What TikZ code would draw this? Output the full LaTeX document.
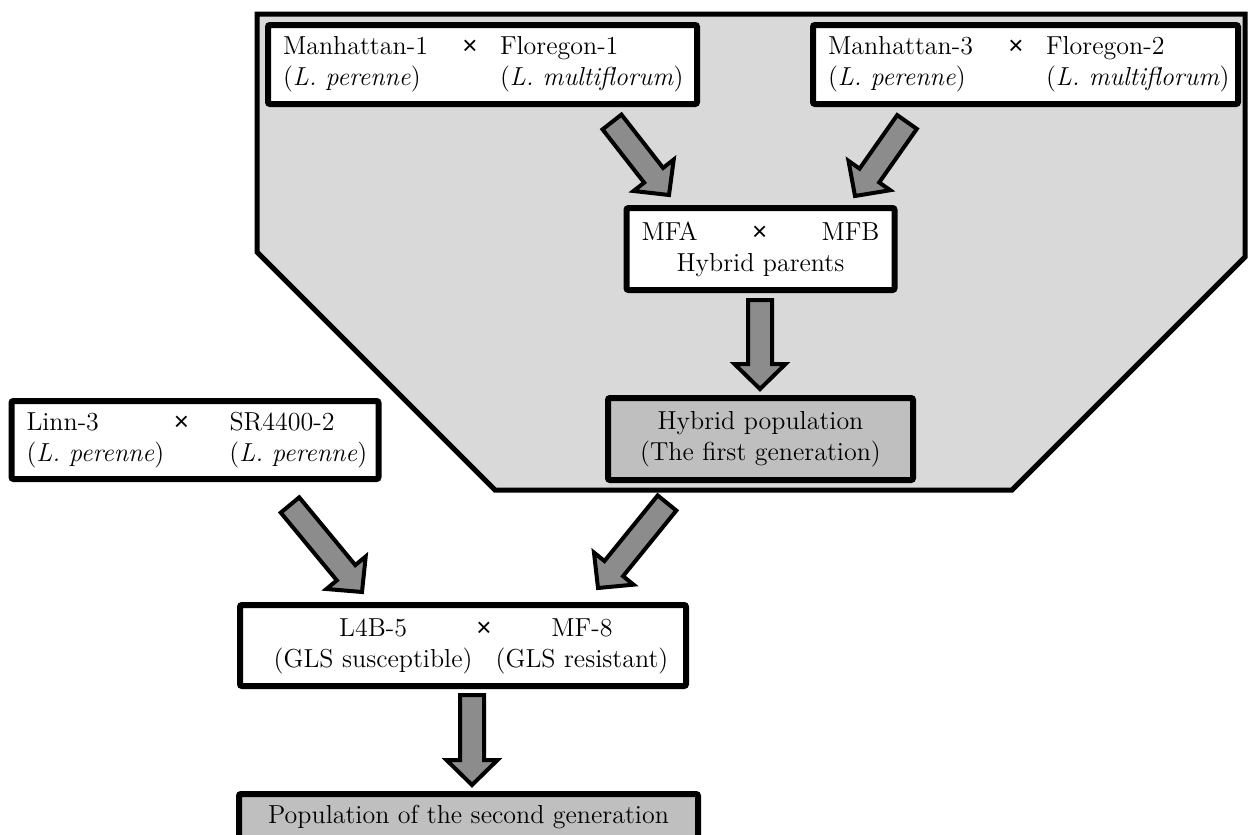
\documentclass[tikz,border=0pt]{standalone}
\usepackage{fontspec}
\usepackage{tikz}
\usetikzlibrary{calc}

\newfontfamily\crossfont{Liberation Sans}
\newcommand\crossmark{{\crossfont ×}}

\definecolor{panelgray}{gray}{0.85}
\definecolor{popgray}{gray}{0.75}
\definecolor{arrowgray}{gray}{0.55}

\tikzset{
  box/.style={draw, line width=3pt, rounded corners=1pt, fill=white, inner xsep=7.5pt, inner ysep=0pt},
  popbox/.style={box, fill=popgray},
  fatarrow/.style={draw=black, fill=arrowgray, line width=2pt, line join=miter}
}

% block arrow from #1 (tail) to #2 (tip)
\newcommand\fatarrow[2]{%
  \draw[fatarrow] ($(#1)!6pt!90:(#2)$)
    -- ($($(#2)!12.5pt!(#1)$)!6pt!90:(#2)$)
    -- ($($(#2)!12.5pt!(#1)$)!12.75pt!90:(#2)$)
    -- (#2)
    -- ($($(#2)!12.5pt!(#1)$)!12.75pt!-90:(#2)$)
    -- ($($(#2)!12.5pt!(#1)$)!6pt!-90:(#2)$)
    -- ($(#1)!6pt!-90:(#2)$) -- cycle;}

\begin{document}
\begin{tikzpicture}[x=0.5pt, y=-0.5pt, font=\fontsize{13}{15.5}\selectfont]
\useasboundingbox (0,0) rectangle (1248,835);

% grey panel of the first generation
\draw[line width=2.5pt, fill=panelgray] (257,14) -- (1245,14) -- (1245,257)
  -- (1012,490) -- (495,490) -- (257,252) -- cycle;

\node[box, minimum width=214.5pt, minimum height=39.5pt, align=left] (man1) at (482.5,64.5)
  {\makebox[78.5pt][l]{Manhattan-1}\makebox[30pt]{\crossmark}\makebox[91pt][l]{Floregon-1}\\
   \makebox[108.5pt][l]{(\textit{L. perenne})}\makebox[91pt][l]{(\textit{L. multiflorum})}};
\node[box, minimum width=212.5pt, minimum height=39.5pt, align=left] (man3) at (1025.5,64.5)
  {\makebox[79pt][l]{Manhattan-3}\makebox[30pt]{\crossmark}\makebox[88.5pt][l]{Floregon-2}\\
   \makebox[109pt][l]{(\textit{L. perenne})}\makebox[88.5pt][l]{(\textit{L. multiflorum})}};
\node[box, minimum width=132.5pt, minimum height=41pt, align=center] (mfab) at (760.5,249)
  {\makebox[119pt]{MFA\hfill\crossmark\hfill MFB}\\Hybrid parents};
\node[popbox, minimum width=152.5pt, minimum height=41pt, align=center] (hybpop) at (760.5,439)
  {Hybrid population\\(The first generation)};
\node[box, minimum width=183pt, minimum height=39pt, align=left] (linn) at (195,440)
  {\makebox[67.5pt][l]{Linn-3}\makebox[20pt]{\crossmark}\hspace{14pt}\makebox[67pt][l]{SR4400-2}\\
   \makebox[101.5pt][l]{(\textit{L. perenne})}\makebox[67pt][l]{(\textit{L. perenne})}};
\node[box, minimum width=223pt, minimum height=40.5pt] (lmf) at (463,645.5)
  {\hspace*{8pt}\begin{tabular}{@{}c@{\hspace{2pt}}c@{\hspace{2pt}}c@{}}
    L4B-5 & \crossmark & MF-8\\
    (GLS susceptible) & & (GLS resistant)
   \end{tabular}};
\node[popbox, minimum width=229.5pt, minimum height=23pt] (secgen) at (468.5,817)
  {Population of the second generation};

% arrow ends
\coordinate (a1s) at (612,122);  \coordinate (a1e) at (669,195);
\coordinate (a2s) at (907,122);  \coordinate (a2e) at (855,196);
\coordinate (a3s) at (760,300);  \coordinate (a3e) at (760,389);
\coordinate (a4s) at (290,505);  \coordinate (a4e) at (362,592);
\coordinate (a5s) at (667,503);  \coordinate (a5e) at (598,588);
\coordinate (a6s) at (472,695);  \coordinate (a6e) at (472,785);

\fatarrow{a1s}{a1e}
\fatarrow{a2s}{a2e}
\fatarrow{a3s}{a3e}
\fatarrow{a4s}{a4e}
\fatarrow{a5s}{a5e}
\fatarrow{a6s}{a6e}
\end{tikzpicture}
\end{document}
